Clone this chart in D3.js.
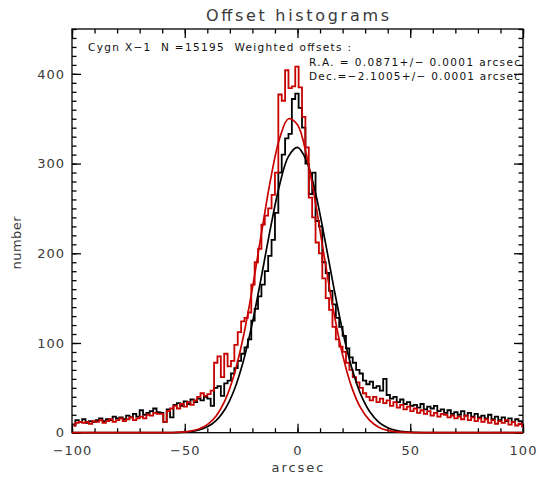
<!DOCTYPE html>
<html>
<head>
<meta charset="utf-8">
<script src="https://cdn.jsdelivr.net/npm/d3@7"></script>
<style>
  html, body { margin: 0; padding: 0; background: #fff; }
  svg { display: block; }
  text { font-family: "DejaVu Sans", sans-serif; white-space: pre; }
</style>
</head>
<body>
<svg id="chart" width="539" height="477"></svg>
<script>
// ---------------- data ----------------
const titleText = "Offset histograms";
const annotLine1 = "Cygn X\u22121  N =15195  Weighted offsets :";
const annotLine2 = "R.A. = 0.0871+/\u2212 0.0001 arcsec";
const annotLine3 = "Dec.=\u22122.1005+/\u2212 0.0001 arcsec";
const xLabel = "arcsec";
const yLabel = "number";

const xMajorTicks = [-100, -50, 0, 50, 100];
const yMajorTicks = [0, 100, 200, 300, 400];

const binStart = -100;
const binWidth = 1.5;

// R.A. offsets histogram (black)
const raCounts = [
  8, 14, 12, 15, 11, 13, 12, 14, 16, 13,
  15, 14, 18, 16, 17, 15, 19, 17, 21, 18,
  25, 20, 22, 24, 27, 23, 22, 12, 26, 17,
  31, 33, 30, 35, 32, 37, 34, 38, 36, 40,
  38, 30, 50, 52, 41, 55, 58, 66, 72, 80,
  88, 95, 104, 125, 138, 152, 165, 180, 197, 215,
  245, 290, 310, 328, 333, 372, 378, 362, 340, 300,
  266, 290, 236, 230, 190, 178, 158, 143, 128, 118,
  108, 94, 84, 78, 70, 66, 58, 54, 57, 50,
  52, 47, 60, 42, 38, 40, 34, 37, 32, 34,
  30, 31, 28, 32, 26, 29, 27, 30, 24, 26,
  22, 25, 21, 23, 20, 24, 19, 22, 18, 21,
  17, 19, 16, 20, 15, 18, 14, 17, 13, 16,
  12, 15, 13, 11
];

// Dec. offsets histogram (red)
const decCounts = [
  8, 11, 12, 11, 12, 10, 13, 12, 14, 11,
  13, 15, 12, 14, 16, 13, 15, 17, 14, 16,
  18, 16, 20, 19, 22, 21, 21, 12, 24, 27,
  30, 27, 32, 29, 34, 31, 36, 40, 44, 41,
  43, 47, 78, 85, 62, 88, 74, 80, 98, 112,
  124, 128, 134, 165, 190, 205, 232, 242, 250, 265,
  290, 377, 370, 404, 384, 386, 408, 385, 352, 318,
  262, 240, 212, 200, 172, 150, 137, 118, 104, 96,
  90, 78, 70, 62, 56, 50, 44, 40, 36, 40,
  34, 38, 33, 36, 30, 34, 28, 31, 26, 29,
  24, 27, 22, 25, 21, 24, 19, 22, 18, 21,
  20, 17, 19, 16, 18, 15, 19, 14, 17, 13,
  16, 12, 15, 11, 14, 10, 13, 11, 14, 9,
  12, 8, 10, 7
];

// Gaussian fit curves, sampled every 4 arcsec from -100 to 100
const fitX = d3.range(-100, 101, 4);
const raFit = [
  0, 0, 0, 0, 0, 0, 0, 0, 0, 0,
  0.05, 0.15, 0.4, 1.2, 2.9, 6.5, 13.8, 26.7, 48.1, 79.9,
  122.7, 174.0, 227.8, 275.6, 308.0, 318.0, 303.1, 267.0, 217.2, 163.2,
  113.3, 72.7, 43.0, 23.6, 11.9, 5.6, 2.4, 0.95, 0.35, 0.1,
  0.03, 0, 0, 0, 0, 0, 0, 0, 0, 0, 0
];
const decFit = [
  0, 0, 0, 0, 0, 0, 0, 0, 0, 0,
  0.06, 0.19, 0.57, 1.55, 3.9, 9.0, 19.0, 36.8, 65.5, 107.2,
  161.1, 222.2, 281.5, 327.5, 349.9, 343.2, 309.2, 255.8, 194.3, 135.5,
  86.8, 51.1, 27.6, 13.7, 6.2, 2.6, 1.0, 0.35, 0.1, 0.03,
  0, 0, 0, 0, 0, 0, 0, 0, 0, 0, 0
];

// ---------------- layout ----------------
(function () {
const svg = d3.select("#chart");
const pL = 72, pR = 523, pT = 29, pB = 432.7;
const x = d3.scaleLinear().domain([-100, 100]).range([pL, pR]);
const y = d3.scaleLinear().domain([0, 450]).range([pB, pT]);

const black = "#000000";
const red = "#c80000";
const textCol = "#3a3a3a";

svg.append("rect").attr("width", 539).attr("height", 477).attr("fill", "#fff");

svg.append("clipPath").attr("id", "plotclip")
  .append("rect").attr("x", pL).attr("y", pT)
  .attr("width", pR - pL).attr("height", pB - pT + 1.5);

const xMinor = d3.range(-100, 101, 10);
const yMinor = d3.range(0, 451, 10);

function styleAxis(g) {
  g.select(".domain").remove();
  g.selectAll("line").attr("stroke", black).attr("stroke-width", 1.3);
  g.selectAll("text").attr("fill", textCol).attr("font-size", 13)
    .attr("letter-spacing", "1px");
}
const fmt = d => d < 0 ? "\u2212" + Math.abs(d) : String(d);

// frame
svg.append("rect").attr("x", pL).attr("y", pT)
  .attr("width", pR - pL).attr("height", pB - pT)
  .attr("fill", "none").attr("stroke", black).attr("stroke-width", 1.3);

// minor ticks
svg.append("g").attr("transform", `translate(0,${pB})`)
  .call(d3.axisBottom(x).tickValues(xMinor).tickSize(-4.5).tickFormat("")).call(styleAxis);
svg.append("g").attr("transform", `translate(0,${pT})`)
  .call(d3.axisTop(x).tickValues(xMinor).tickSize(-4.5).tickFormat("")).call(styleAxis);
svg.append("g").attr("transform", `translate(${pL},0)`)
  .call(d3.axisLeft(y).tickValues(yMinor).tickSize(-4.5).tickFormat("")).call(styleAxis);
svg.append("g").attr("transform", `translate(${pR},0)`)
  .call(d3.axisRight(y).tickValues(yMinor).tickSize(-4.5).tickFormat("")).call(styleAxis);

// major ticks
svg.append("g").attr("transform", `translate(0,${pB})`)
  .call(d3.axisBottom(x).tickValues(xMajorTicks).tickSize(-9).tickPadding(13).tickFormat(fmt))
  .call(styleAxis);
svg.append("g").attr("transform", `translate(0,${pT})`)
  .call(d3.axisTop(x).tickValues(xMajorTicks).tickSize(-9).tickFormat("")).call(styleAxis);
svg.append("g").attr("transform", `translate(${pL},0)`)
  .call(d3.axisLeft(y).tickValues(yMajorTicks).tickSize(-9).tickPadding(7).tickFormat(fmt))
  .call(styleAxis);
svg.append("g").attr("transform", `translate(${pR},0)`)
  .call(d3.axisRight(y).tickValues(yMajorTicks).tickSize(-9).tickFormat("")).call(styleAxis);

// ---------------- marks ----------------
const plot = svg.append("g").attr("clip-path", "url(#plotclip)");

const histLine = d3.line()
  .x((d, i) => x(binStart + binWidth * (i + 0.5)))
  .y(d => y(d))
  .curve(d3.curveStep);

plot.append("path").attr("d", histLine(raCounts))
  .attr("fill", "none").attr("stroke", black).attr("stroke-width", 1.8)
  .attr("stroke-linejoin", "miter");
plot.append("path").attr("d", histLine(decCounts))
  .attr("fill", "none").attr("stroke", red).attr("stroke-width", 1.8)
  .attr("stroke-linejoin", "miter");

const fitLine = d3.line()
  .x((d, i) => x(fitX[i]))
  .y(d => y(d))
  .curve(d3.curveCatmullRom);

plot.append("path").attr("d", fitLine(raFit))
  .attr("fill", "none").attr("stroke", black).attr("stroke-width", 1.7);
plot.append("path").attr("d", fitLine(decFit))
  .attr("fill", "none").attr("stroke", red).attr("stroke-width", 1.7);

// ---------------- text ----------------
svg.append("text").attr("x", (pL + pR) / 2).attr("y", 21)
  .attr("text-anchor", "middle").attr("font-size", 16).attr("fill", textCol)
  .attr("textLength", 183).attr("lengthAdjust", "spacing")
  .text(titleText);

svg.append("text").attr("x", 88).attr("y", 51)
  .attr("font-size", 10.5).attr("fill", "#111")
  .attr("textLength", 263).attr("lengthAdjust", "spacing")
  .text(annotLine1);
svg.append("text").attr("x", 309).attr("y", 65.5)
  .attr("font-size", 10.5).attr("fill", "#111")
  .attr("textLength", 211).attr("lengthAdjust", "spacing")
  .text(annotLine2);
svg.append("text").attr("x", 309).attr("y", 80)
  .attr("font-size", 10.5).attr("fill", "#111")
  .attr("textLength", 211).attr("lengthAdjust", "spacing")
  .text(annotLine3);

svg.append("text").attr("x", (pL + pR) / 2).attr("y", 472)
  .attr("text-anchor", "middle").attr("font-size", 13).attr("fill", textCol)
  .attr("textLength", 52).attr("lengthAdjust", "spacing")
  .text(xLabel);

svg.append("text").attr("transform", "translate(21,243) rotate(-90)")
  .attr("text-anchor", "middle").attr("font-size", 13).attr("fill", textCol)
  .attr("textLength", 53).attr("lengthAdjust", "spacing")
  .text(yLabel);
})();
</script>
</body>
</html>
